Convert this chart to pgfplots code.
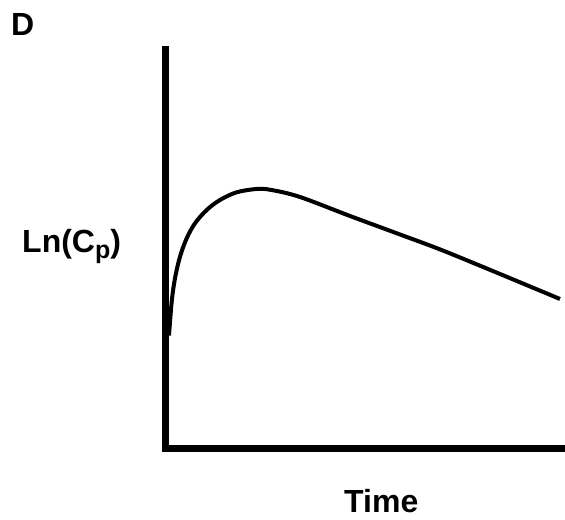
\documentclass[border=0pt]{standalone}
\usepackage{pgfplots}
\pgfplotsset{compat=1.18}
\usepackage{fontspec}
\setmainfont{Liberation Sans}
\begin{document}
\begin{tikzpicture}[x=1bp,y=1bp]
\path[use as bounding box] (0,0) rectangle (565,520);
\begin{axis}[at={(165.5,71.5)}, anchor=south west,
  scale only axis, width=400bp, height=399bp,
  xmin=0, xmax=400, ymin=0, ymax=399,
  axis lines=left, axis line style={line width=7bp, -, line cap=rect},
  xtick=\empty, ytick=\empty, clip=false]
\addplot[line width=4bp, smooth, tension=0.55] coordinates {
(3.5,113) (6.2,146.8) (9.5,170.2) (14.5,191.8) (21.2,210.2) (29.5,225.2) (41.2,238.5) (54.5,248.5) (71.2,256.2) (91.2,259.5) (106,258.5) (134.5,251.5) (184.5,232.5) (234.5,214) (276,198.5) (334.5,174.5) (394.5,149.5)
};
\end{axis}
\node[anchor=base west, inner sep=0pt, font=\fontsize{32bp}{38bp}\selectfont\bfseries] at (11,484) {D};
\node[anchor=base west, inner sep=0pt, font=\fontsize{32bp}{38bp}\selectfont\bfseries] at (22,267) {Ln(C\raisebox{-6bp}{\fontsize{25bp}{28bp}\selectfont p})};
\node[anchor=base west, inner sep=0pt, font=\fontsize{32bp}{38bp}\selectfont\bfseries] at (344,7) {Time};
\end{tikzpicture}
\end{document}
